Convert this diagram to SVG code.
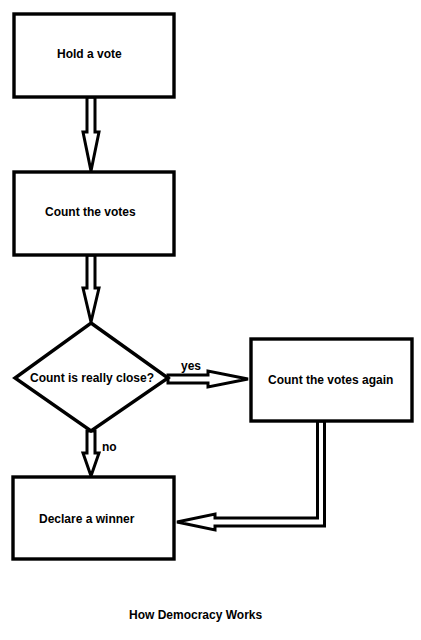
<svg xmlns="http://www.w3.org/2000/svg" width="421" height="640" viewBox="0 0 421 640">
<style>
.box{fill:#fff;stroke:#000;stroke-width:3.4}
.arr{fill:#fff;stroke:#000;stroke-width:3;stroke-linejoin:miter;stroke-miterlimit:4}
text{font-family:"Liberation Sans",Arial,sans-serif;font-weight:bold;font-size:12px;fill:#000}
</style>
<rect width="421" height="640" fill="#fff"/>
<g id="connectors">
<polygon class="arr" points="87,97 87,132 83,132 91,171 99,132 95,132 95,97"/>
<polygon class="arr" points="87,255 87,288 83,288 91,322 99,288 95,288 95,255"/>
<polygon class="arr" points="87,431 87,453 83,453 91,476 99,453 95,453 95,431"/>
<polygon class="arr" points="168,375 208,375 208,371 248,379 208,387 208,383 168,383"/>
<polygon class="arr" points="324.5,421 324.5,526 215,526 215,530 177,522 215,514 215,518 317.5,518 317.5,421"/>
<text x="181" y="370">yes</text>
<text x="102" y="451">no</text>
</g>
<g id="hold">
<rect class="box" x="14" y="14" width="160" height="83"/>
<text x="57" y="58">Hold a vote</text>
</g>
<g id="count">
<rect class="box" x="14" y="172" width="160" height="83"/>
<text x="45" y="216">Count the votes</text>
</g>
<g id="decision">
<polygon class="box" points="91,323 168,378 91,431 15,378"/>
<text x="30" y="382">Count is really close?</text>
</g>
<g id="again">
<rect class="box" x="251" y="339" width="161" height="82"/>
<text x="268" y="384">Count the votes again</text>
</g>
<g id="declare">
<rect class="box" x="13" y="477" width="161" height="82"/>
<text x="39" y="523">Declare a winner</text>
</g>
<g id="title">
<text x="129" y="619">How Democracy Works</text>
</g>
</svg>
